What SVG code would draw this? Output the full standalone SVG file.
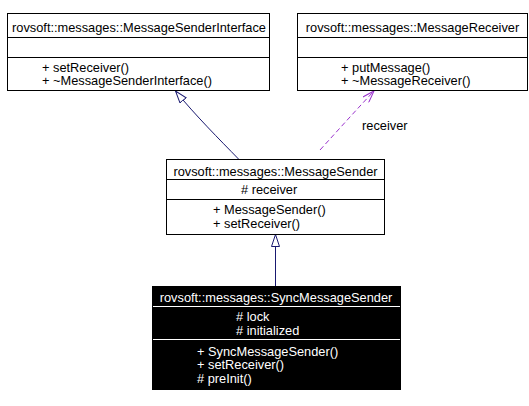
<svg xmlns="http://www.w3.org/2000/svg" width="529" height="406" viewBox="0 0 529 406">
<style>
text{font-family:"Liberation Sans",Arial,sans-serif;font-size:12.8px;fill:#000}
.box{fill:#fff;stroke:#000;stroke-width:1}
.sep{stroke:#000;stroke-width:1}
.dark{fill:#000;stroke:#000;stroke-width:1}
.wsep{stroke:#fff;stroke-width:1}
.wt{fill:#fff}
.mid{text-anchor:middle}
.inh{stroke:#191970;stroke-width:1;fill:none}
.use{stroke:#9a32cd;stroke-width:1;fill:none;stroke-dasharray:5,3}
</style>
<defs>
<marker id="tri" markerUnits="userSpaceOnUse" viewBox="0 0 13 9" refX="12.5" refY="4.5" markerWidth="13" markerHeight="9" orient="auto">
<path d="M0.5,0.5 L12.5,4.5 L0.5,8.5 z" fill="#fff" stroke="#191970" stroke-width="1"/>
</marker>
<marker id="vee" markerUnits="userSpaceOnUse" viewBox="0 0 13 9" refX="12.5" refY="4.5" markerWidth="13" markerHeight="9" orient="auto">
<path d="M0.5,0.5 L12.5,4.5 L0.5,8.5" fill="none" stroke="#9a32cd" stroke-width="1"/>
</marker>
</defs>
<rect width="529" height="406" fill="#fff"/>
<g id="connectors">
<path class="inh" d="M238.5,159 C220,140 195,115 175.5,91" marker-end="url(#tri)"/>
<path class="use" d="M320,150 C340,128 358,108 374,91" marker-end="url(#vee)"/>
<text x="362" y="129.5">receiver</text>
<path class="inh" d="M275.5,286 L275.5,234.5" marker-end="url(#tri)"/>
</g>
<g id="MessageSenderInterface">
<rect class="box" x="7.5" y="13.5" width="262" height="77"/>
<line class="sep" x1="7.5" y1="37.5" x2="269.5" y2="37.5"/>
<line class="sep" x1="7.5" y1="57.5" x2="269.5" y2="57.5"/>
<text class="mid" x="139" y="31.5">rovsoft::messages::MessageSenderInterface</text>
<text x="42" y="71.5">+ setReceiver()</text>
<text x="42" y="85">+ ~MessageSenderInterface()</text>
</g>
<g id="MessageReceiver">
<rect class="box" x="297.5" y="13.5" width="230" height="77"/>
<line class="sep" x1="297.5" y1="37.5" x2="527.5" y2="37.5"/>
<line class="sep" x1="297.5" y1="57.5" x2="527.5" y2="57.5"/>
<text class="mid" x="412.5" y="31.5">rovsoft::messages::MessageReceiver</text>
<text x="341" y="71.5">+ putMessage()</text>
<text x="341" y="85">+ ~MessageReceiver()</text>
</g>
<g id="MessageSender">
<rect class="box" x="166.5" y="159.5" width="218" height="75"/>
<line class="sep" x1="166.5" y1="179.5" x2="384.5" y2="179.5"/>
<line class="sep" x1="166.5" y1="199.5" x2="384.5" y2="199.5"/>
<text class="mid" x="275.5" y="175.5">rovsoft::messages::MessageSender</text>
<text x="241" y="194">#&#160;receiver</text>
<text x="213" y="214">+ MessageSender()</text>
<text x="213" y="227.5">+ setReceiver()</text>
</g>
<g id="SyncMessageSender">
<rect class="dark" x="152.5" y="286.5" width="248" height="103"/>
<line class="wsep" x1="153" y1="306.5" x2="400" y2="306.5"/>
<line class="wsep" x1="153" y1="339.5" x2="400" y2="339.5"/>
<text class="mid wt" x="276" y="302">rovsoft::messages::SyncMessageSender</text>
<text class="wt" x="236" y="321">#&#160;lock</text>
<text class="wt" x="236" y="334.5">#&#160;initialized</text>
<text class="wt" x="197" y="355.5">+ SyncMessageSender()</text>
<text class="wt" x="197" y="369">+ setReceiver()</text>
<text class="wt" x="197" y="382.5">#&#160;preInit()</text>
</g>
</svg>
